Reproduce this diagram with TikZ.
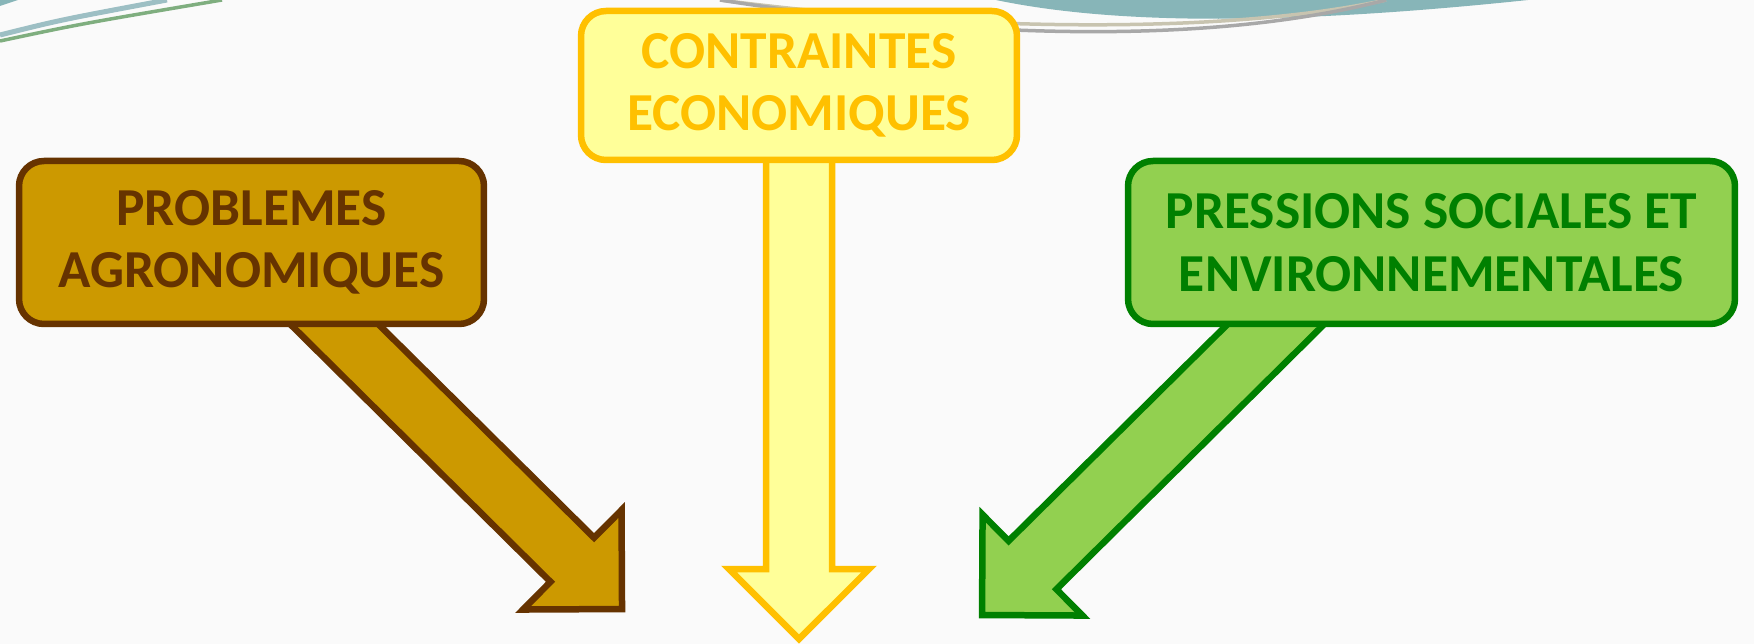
\documentclass[tikz,border=0pt]{standalone}
\usepackage{fontspec}
\setmainfont{Carlito}
\usepackage{tikz}
\usetikzlibrary{positioning,calc,backgrounds}
\definecolor{agrofill}{HTML}{CC9900}
\definecolor{agroline}{HTML}{663300}
\definecolor{ecofill}{HTML}{FFFF99}
\definecolor{ecoline}{HTML}{FFC000}
\definecolor{pressfill}{HTML}{92D050}
\definecolor{pressline}{HTML}{008000}
\definecolor{bgcol}{HTML}{FAFAFA}
\definecolor{swteal}{HTML}{87B5B8}
\definecolor{swblue}{HTML}{9DBFC4}
\definecolor{swgreen}{HTML}{7FAE7F}
\definecolor{swbeige}{HTML}{C8C4B0}
\definecolor{swgray}{HTML}{A8A8A8}
% block arrow: style, from, to, half shaft width, head length
\newcommand{\bigarrow}[5]{%
  \draw [#1] let \p1=($(#3)-(#2)$), \n1={atan2(\y1,\x1)} in
    ($(#2)+(\n1+90:#4)$) -- ($(#3)+(\n1+180:#5)+(\n1+90:#4)$)
    -- ($(#3)+(\n1+135:1.4142*#5)$) -- (#3)
    -- ($(#3)+(\n1-135:1.4142*#5)$) -- ($(#3)+(\n1+180:#5)+(\n1-90:#4)$)
    -- ($(#2)+(\n1-90:#4)$) -- cycle;}

\begin{document}
\begin{tikzpicture}[scale=0.10]
			\tikzstyle{every node}+=[inner sep=0pt]
			\tikzstyle{box}=[rounded corners=2.5mm, line width=0.65mm, align=center, font=\fontsize{15.2}{17.8}\selectfont\bfseries]
			\useasboundingbox (0,0) rectangle (175.4,-64.4);
			\node [box, draw=agroline, fill=agrofill, text=agroline, minimum width=4.65cm, minimum height=1.63cm] (prob) at (25.15,-24.25) {PROBLEMES\\AGRONOMIQUES};
			\node [box, draw=ecoline, fill=ecofill, text=ecoline, minimum width=4.36cm, minimum height=1.49cm] (eco) at (79.9,-8.55) {CONTRAINTES\\ECONOMIQUES};
			\node [box, draw=pressline, fill=pressfill, text=pressline, minimum width=6.07cm, minimum height=1.63cm] (press) at (143.15,-24.25) {PRESSIONS SOCIALES ET\\ENVIRONNEMENTALES};
			\coordinate (probFrom) at ($(prob.south)+(4.55,4.0)$);
			\coordinate (ecoFrom) at ($(eco.south)+(0,1.0)$);
			\coordinate (pressFrom) at ($(press.south)+(-11.85,4.0)$);
			\coordinate (probTip) at (62.2,-60.9);
			\coordinate (ecoTip) at (79.9,-63.9);
			\coordinate (pressTip) at (98.2,-61.5);
			\begin{scope}[on background layer]
			\fill [bgcol] (0,0) rectangle (175.4,-64.4);
			% swooshes of the slide
			\fill [swteal] (0,0) -- (1.8,0) .. controls (1.0,-0.3) .. (0,-0.6) -- cycle;
			\draw [swblue, line width=0.5mm] (0,-3.5) .. controls (6,-2.0) .. (16.7,0);
			\draw [swgreen, line width=0.35mm] (0,-4.1) .. controls (8,-2.4) .. (22.2,0);
			\fill [swteal] (99.6,0) .. controls (112,-2.6) and (130,-2.4) .. (152.8,0) -- cycle;
			\draw [swbeige, line width=0.35mm] (72.0,0) .. controls (95,-3.0) and (122,-3.6) .. (138.6,0);
			\draw [swgray, line width=0.35mm] (72.0,0) .. controls (95,-3.6) and (120,-4.8) .. (138.6,0);
			% arrows
			\bigarrow{draw=agroline, fill=agrofill, line width=0.65mm}{probFrom}{probTip}{3.1}{7.0}
			\bigarrow{draw=ecoline, fill=ecofill, line width=0.65mm}{ecoFrom}{ecoTip}{3.3}{7.0}
			\bigarrow{draw=pressline, fill=pressfill, line width=0.65mm}{pressFrom}{pressTip}{3.4}{7.1}
			\end{scope}
\end{tikzpicture}
\end{document}
